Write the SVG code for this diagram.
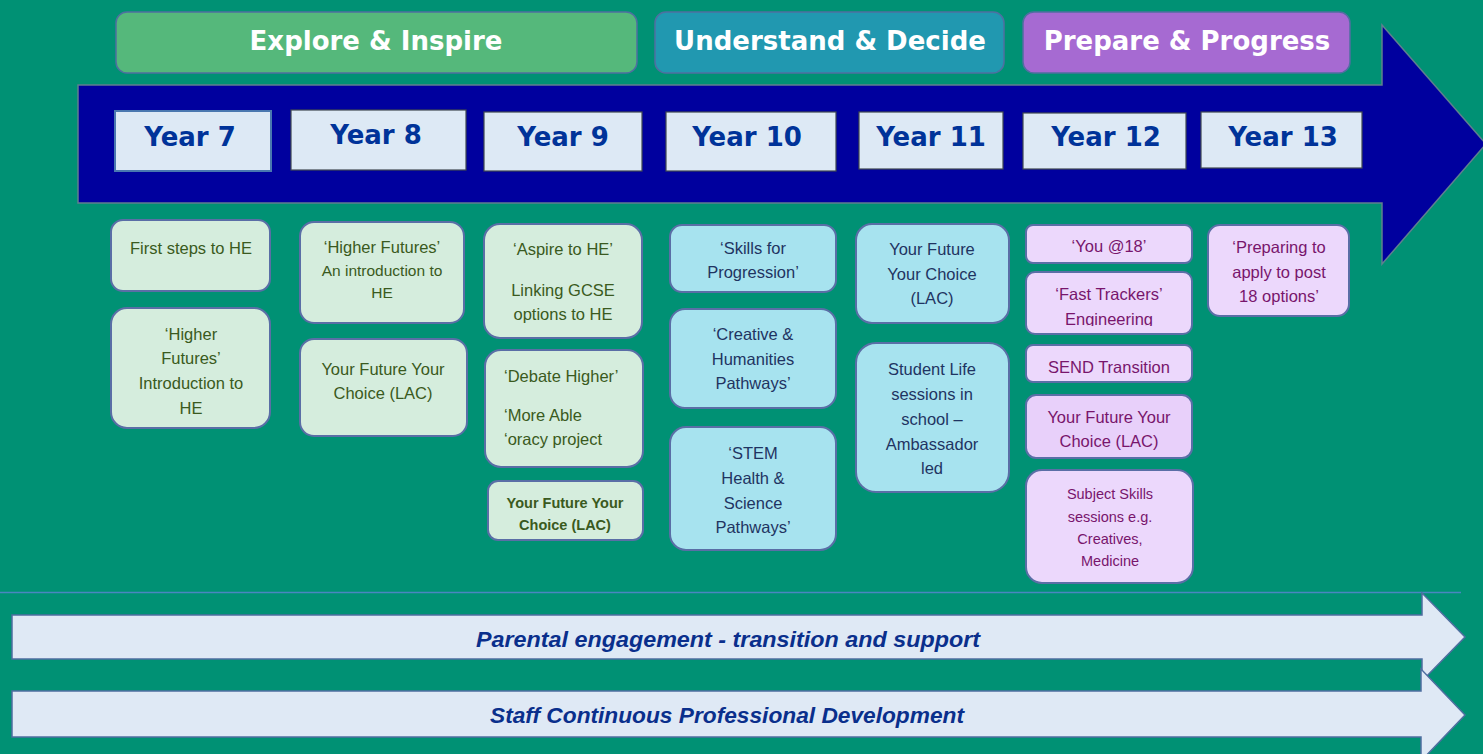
<svg xmlns="http://www.w3.org/2000/svg" width="1483" height="754" viewBox="0 0 1483 754">
<style>
.hdr{font-family:"DejaVu Sans",sans-serif;font-weight:bold;font-size:26px;fill:#ffffff;text-anchor:middle}
.yr rect{fill:#dde9f5;stroke:#404850;stroke-width:1.2}
.yr text{font-family:"DejaVu Sans",sans-serif;font-weight:bold;font-size:26px;fill:#003399;text-anchor:middle}
.box rect{stroke:#5a6ea6;stroke-width:2}
.box text{font-family:"Liberation Sans",Arial,sans-serif;font-size:16.5px;text-anchor:middle}
.g rect{fill:#d5eddd}.g text{fill:#3a5a20}
.b rect{fill:#a7e3ef}.b text{fill:#1f3462}
.p rect{fill:#ecd8fc}.p text{fill:#78156c}
.band{fill:#dfe9f5;stroke:#4f6ea0;stroke-width:1.5}
.bandtxt{font-family:"Liberation Sans",Arial,sans-serif;font-weight:bold;font-style:italic;font-size:22px;fill:#0a2f8c;text-anchor:middle}
</style>
<defs>
<clipPath id="clipFT"><rect x="1026" y="272" width="167" height="54"/></clipPath>
</defs>
<rect x="0" y="0" width="1483" height="754" fill="#009174"/>

<g id="main-arrow">
<polygon points="78,85 1382,85 1382,25 1486,144 1382,264 1382,203 78,203" fill="#00009e" stroke="#5f7f8f" stroke-width="1.5"/>
</g>

<g id="hdr-explore"><rect x="116" y="12" width="521" height="61" rx="11" fill="#55b87b" stroke="#4f6fa0" stroke-width="1.5"/><text class="hdr" x="376" y="49.5">Explore &amp; Inspire</text></g>
<g id="hdr-understand"><rect x="655" y="12" width="349" height="61" rx="11" fill="#2198b0" stroke="#4f6fa0" stroke-width="1.5"/><text class="hdr" x="830" y="49.5">Understand &amp; Decide</text></g>
<g id="hdr-prepare"><rect x="1023" y="12" width="327" height="61" rx="11" fill="#a66ad2" stroke="#4f6fa0" stroke-width="1.5"/><text class="hdr" x="1187" y="49.5">Prepare &amp; Progress</text></g>

<g id="year7" class="yr"><rect x="115" y="111" width="156" height="60" style="stroke:#4a78b0;stroke-width:2"/><text x="190" y="146">Year 7</text></g>
<g id="year8" class="yr"><rect x="291" y="110" width="175" height="60"/><text x="376" y="144">Year 8</text></g>
<g id="year9" class="yr"><rect x="484" y="112" width="158" height="59"/><text x="563" y="146">Year 9</text></g>
<g id="year10" class="yr"><rect x="666" y="112" width="170" height="59"/><text x="747" y="146">Year 10</text></g>
<g id="year11" class="yr"><rect x="859" y="112" width="144" height="57"/><text x="931" y="146">Year 11</text></g>
<g id="year12" class="yr"><rect x="1023" y="113" width="163" height="56"/><text x="1106" y="146">Year 12</text></g>
<g id="year13" class="yr"><rect x="1201" y="112" width="161" height="56"/><text x="1283" y="146">Year 13</text></g>

<!-- Year 7 -->
<g id="y7-first-steps" class="box g"><rect x="111" y="220" width="159" height="71" rx="12"/><text x="191" y="254">First steps to HE</text></g>
<g id="y7-higher-futures" class="box g"><rect x="111" y="308" width="159" height="120" rx="16"/><text x="191" y="340">‘Higher</text><text x="191" y="364">Futures’</text><text x="191" y="389">Introduction to</text><text x="191" y="414">HE</text></g>

<!-- Year 8 -->
<g id="y8-higher-futures" class="box g"><rect x="300" y="222" width="164" height="101" rx="14"/><text x="382" y="253">‘Higher Futures’</text><text x="382" y="276" style="font-size:15.5px">An introduction to</text><text x="382" y="298" style="font-size:15.5px">HE</text></g>
<g id="y8-yfyc" class="box g"><rect x="300" y="339" width="167" height="97" rx="14"/><text x="383" y="375">Your Future Your</text><text x="383" y="399">Choice (LAC)</text></g>

<!-- Year 9 -->
<g id="y9-aspire" class="box g"><rect x="484" y="224" width="158" height="114" rx="16"/><text x="563" y="255">‘Aspire to HE’</text><text x="563" y="296">Linking GCSE</text><text x="563" y="320">options to HE</text></g>
<g id="y9-debate" class="box g"><rect x="485" y="350" width="158" height="117" rx="16"/><text x="504" y="382" style="text-anchor:start">‘Debate Higher’</text><text x="504" y="421" style="text-anchor:start">‘More Able</text><text x="504" y="445" style="text-anchor:start">‘oracy project</text></g>
<g id="y9-yfyc" class="box g"><rect x="488" y="481" width="155" height="59" rx="10"/><text x="565" y="508" style="font-size:14.5px;font-weight:bold">Your Future Your</text><text x="565" y="530" style="font-size:14.5px;font-weight:bold">Choice (LAC)</text></g>

<!-- Year 10 -->
<g id="y10-skills" class="box b"><rect x="670" y="225" width="166" height="67" rx="12"/><text x="753" y="254">‘Skills for</text><text x="753" y="278">Progression’</text></g>
<g id="y10-creative" class="box b"><rect x="670" y="309" width="166" height="99" rx="15"/><text x="753" y="340">‘Creative &amp;</text><text x="753" y="365">Humanities</text><text x="753" y="389">Pathways’</text></g>
<g id="y10-stem" class="box b"><rect x="670" y="427" width="166" height="123" rx="16"/><text x="753" y="459">‘STEM</text><text x="753" y="484">Health &amp;</text><text x="753" y="509">Science</text><text x="753" y="533">Pathways’</text></g>

<!-- Year 11 -->
<g id="y11-yfyc" class="box b"><rect x="856" y="224" width="153" height="99" rx="16"/><text x="932" y="255">Your Future</text><text x="932" y="280">Your Choice</text><text x="932" y="304">(LAC)</text></g>
<g id="y11-student-life" class="box b"><rect x="856" y="343" width="153" height="149" rx="20"/><text x="932" y="375">Student Life</text><text x="932" y="400">sessions in</text><text x="932" y="425">school –</text><text x="932" y="450">Ambassador</text><text x="932" y="474">led</text></g>

<!-- Year 12 -->
<g id="y12-you18" class="box p"><rect x="1026" y="225" width="166" height="38" rx="7"/><text x="1109" y="252">‘You @18’</text></g>
<g id="y12-fast-trackers" class="box p"><rect x="1026" y="272" width="166" height="62" rx="9"/><g clip-path="url(#clipFT)"><text x="1109" y="300">‘Fast Trackers’</text><text x="1109" y="325">Engineering</text></g></g>
<g id="y12-send" class="box p"><rect x="1026" y="345" width="166" height="37" rx="7"/><text x="1109" y="373">SEND Transition</text></g>
<g id="y12-yfyc" class="box p"><rect x="1026" y="395" width="166" height="63" rx="10" style="fill:#e8d0fa"/><text x="1109" y="423">Your Future Your</text><text x="1109" y="447">Choice (LAC)</text></g>
<g id="y12-subject-skills" class="box p"><rect x="1026" y="470" width="167" height="113" rx="16"/><text x="1110" y="499" style="font-size:14.5px">Subject Skills</text><text x="1110" y="522" style="font-size:14.5px">sessions e.g.</text><text x="1110" y="544" style="font-size:14.5px">Creatives,</text><text x="1110" y="566" style="font-size:14.5px">Medicine</text></g>

<!-- Year 13 -->
<g id="y13-preparing" class="box p"><rect x="1208" y="225" width="141" height="91" rx="12"/><text x="1279" y="253">‘Preparing to</text><text x="1279" y="278">apply to post</text><text x="1279" y="302">18 options’</text></g>

<g id="divider"><line x1="0" y1="592.5" x2="1461" y2="592.5" stroke="#4a86c0" stroke-width="1.5"/></g>

<g id="band-parental">
<polygon class="band" points="12,615 1422,615 1422,593 1465,637 1422,681 1422,659 12,659"/>
<text class="bandtxt" x="728" y="647" textLength="504" lengthAdjust="spacingAndGlyphs">Parental engagement - transition and support</text>
</g>
<g id="band-staff">
<polygon class="band" points="12,691 1421,691 1421,669 1465,715 1421,761 1421,737 12,737"/>
<text class="bandtxt" x="727" y="723" textLength="474" lengthAdjust="spacingAndGlyphs">Staff Continuous Professional Development</text>
</g>
</svg>
